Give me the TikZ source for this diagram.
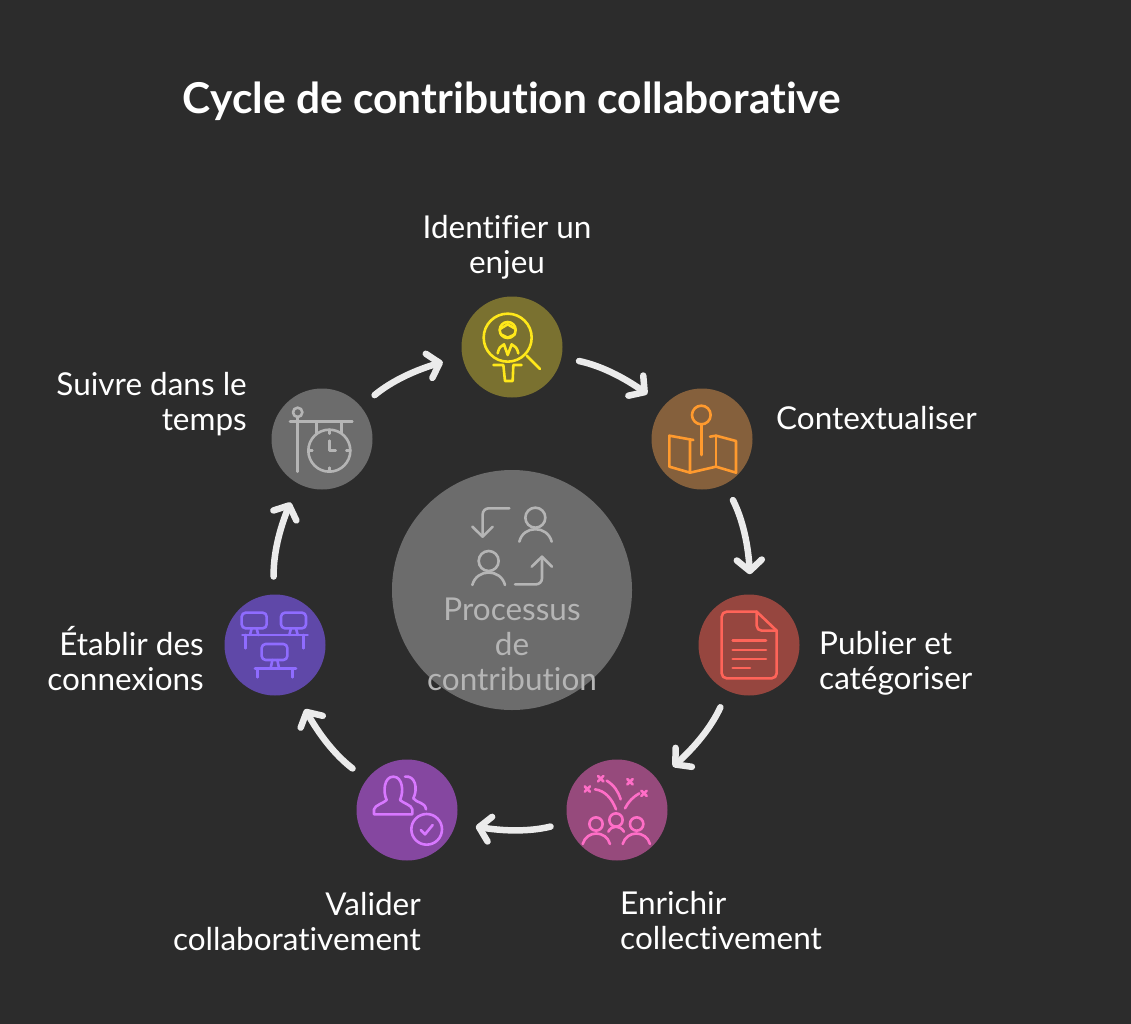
\documentclass[tikz,border=0pt]{standalone}
\usepackage{fontspec}
\setmainfont[Ligatures=NoCommon]{Lato}
\usetikzlibrary{arrows.meta,bending}
\definecolor{bg}{HTML}{2C2C2C}
\definecolor{arrowc}{HTML}{EBEBEB}
\definecolor{yf}{HTML}{7A7130}\definecolor{ys}{HTML}{FFE81A}
\definecolor{of}{HTML}{85603C}\definecolor{os}{HTML}{FF9A2E}
\definecolor{rf}{HTML}{96463F}\definecolor{rs}{HTML}{FF6459}
\definecolor{pf}{HTML}{964A7C}\definecolor{ps}{HTML}{FF6EC7}
\definecolor{vf}{HTML}{8547A0}\definecolor{vs}{HTML}{D878FF}
\definecolor{nf}{HTML}{5F48A8}\definecolor{ns}{HTML}{8F6CFF}
\definecolor{gf}{HTML}{6C6C6C}\definecolor{gs}{HTML}{B5B5B5}
\tikzset{
  x=1pt,y=-1pt,
  disc/.style={circle,minimum size=101pt,inner sep=0pt,outer sep=0pt},
  ico/.style={line width=2.6pt,line cap=round,line join=round},
  lab/.style={text=white,font=\fontsize{31.5}{35}\selectfont,inner sep=0pt},
  flow/.style={draw=arrowc,line width=6.5pt,line cap=round,line join=round,
    -{Straight Barb[length=11pt,width=25pt,line width=6.5pt,round]},
    bend left=14,shorten <=18pt,shorten >=21pt},
}
\begin{document}
\begin{tikzpicture}
\useasboundingbox (0,0) rectangle (1131,1024);
\fill[bg] (0,0) rectangle (1131,1024);
\node[text=white,inner sep=0pt,font=\fontsize{42.5}{50}\selectfont\bfseries] (title) at (512,101) {Cycle de contribution collaborative};
\node[disc,minimum size=240pt,fill=gf] (center) at (512,590) {};
\node[disc,fill=yf] (n1) at (512,347) {};
\node[disc,fill=of] (n2) at (702,439) {};
\node[disc,fill=rf] (n3) at (749,645) {};
\node[disc,fill=pf] (n4) at (617,810) {};
\node[disc,fill=vf] (n5) at (407,810) {};
\node[disc,fill=nf] (n6) at (275,645) {};
\node[disc,fill=gf] (n7) at (322,439) {};
\draw[flow] (n1) to (n2);
\draw[flow] (n2) to (n3);
\draw[flow] (n3) to (n4);
\draw[flow] (n4) to (n5);
\draw[flow] (n5) to (n6);
\draw[flow] (n6) to (n7);
\draw[flow] (n7) to (n1);
% labels
\node[lab,align=center] (l1) at (507,247) {Identifier un\\enjeu};
\node[lab,anchor=west] (l2) at (776,418) {Contextualiser};
\node[lab,anchor=west,align=left] (l3) at (819,663) {Publier et\\catégoriser};
\node[lab,anchor=west,align=left] (l4) at (620,921) {Enrichir\\collectivement};
\node[lab,anchor=east,align=right] (l5) at (421,922) {Valider\\collaborativement};
\node[lab,anchor=east,align=right] (l6) at (204,659) {Établir des\\connexions};
\node[lab,anchor=east,align=right] (l7) at (247,404) {Suivre dans le\\temps};
\node[lab,align=center,text=gs] (lc) at (512,644) {Processus\\de\\contribution};
% yellow icon
\begin{scope}[shift={(450,285)},scale=1/3,draw=ys,ico]
\draw (173,158) circle (72);
\draw (173,135) circle (24);
\draw (150,132) -- (173,118) -- (197,132);
\draw (152,148) -- (173,158) -- (195,148);
\draw (143,205) .. controls (146,190) and (152,182) .. (162,178) -- (173,210) -- (185,178) .. controls (195,182) and (202,190) .. (205,205);
\draw (130,240) -- (160,240) -- (165,288) -- (188,288) -- (190,240) -- (215,240);
\draw (230,212) -- (270,252);
\end{scope}
% orange icon
\begin{scope}[shift={(450,285)},scale=1/3,draw=os,ico]
\draw (754,390) circle (28);
\draw (754,418) -- (754,510);
\draw (730,465) -- (658,452) -- (658,545) -- (720,563) -- (720,465);
\draw (720,563) -- (798,545) -- (858,563) -- (858,468) -- (798,452) -- (780,455);
\draw (798,452) -- (798,545);
\end{scope}
% red icon
\begin{scope}[shift={(690,590)},scale=1/3,draw=rs,ico]
\draw[rounded corners=5pt] (200,65) -- (95,65) -- (95,265) -- (260,265) -- (260,122);
\draw (200,65) -- (260,122);
\draw[rounded corners=5pt] (200,65) -- (200,122) -- (260,122);
\draw (128,152) -- (228,152) (128,180) -- (228,180) (128,207) -- (228,207) (128,234) -- (180,234);
\end{scope}
% pink icon
\begin{scope}[shift={(350,750)},scale=1/3,draw=ps,ico]
\draw (738,222) circle (20) (798,210) circle (20) (860,222) circle (20);
\draw (698,282) .. controls (710,240) and (768,240) .. (780,282);
\draw (818,282) .. controls (830,240) and (888,240) .. (900,282);
\draw (775,245) .. controls (785,225) and (810,225) .. (822,245);
\draw (735,118) .. controls (765,122) and (785,145) .. (798,178);
\draw (770,92) .. controls (792,105) and (805,125) .. (812,148);
\draw (825,175) .. controls (835,155) and (850,140) .. (868,130);
\foreach \px/\py in {752/86,840/95,712/117,882/130}
  \draw (\px-8,\py-8) -- (\px+8,\py+8) (\px-8,\py+8) -- (\px+8,\py-8);
\end{scope}
% purple icon
\begin{scope}[shift={(350,750)},scale=1/3,draw=vs,ico]
\draw (72,193) -- (187,193) -- (187,178) .. controls (185,165) and (160,160) .. (150,150) .. controls (162,125) and (158,80) .. (130,80) .. controls (102,80) and (98,125) .. (110,150) .. controls (100,160) and (75,165) .. (72,178) -- cycle;
\draw (165,80) .. controls (195,75) and (205,115) .. (190,145) .. controls (200,160) and (225,155) .. (228,178);
\draw (230,238) circle (46);
\draw (212,240) -- (225,253) -- (248,225);
\end{scope}
% indigo icon
\begin{scope}[shift={(215,380)},scale=1/3,draw=ns,ico]
\draw[rounded corners=4pt] (80,698) rectangle (155,745);
\draw[rounded corners=4pt] (198,698) rectangle (273,745);
\draw[rounded corners=4pt] (140,792) rectangle (217,840);
\draw (110,745) -- (105,765) (125,745) -- (130,765);
\draw (228,745) -- (223,765) (243,745) -- (248,765);
\draw (172,840) -- (167,865) (187,840) -- (192,865);
\draw (82,765) -- (278,765) (92,765) -- (92,805) (266,765) -- (266,805);
\draw (120,865) -- (243,865) (128,865) -- (128,892) (232,865) -- (232,892);
\end{scope}
% gray icon
\begin{scope}[shift={(215,380)},scale=1/3,draw=gs,ico]
\draw (248,97) circle (14);
\draw (248,111) -- (248,275);
\draw (225,125) -- (412,125);
\draw (305,125) -- (305,160) (380,125) -- (380,160);
\draw (343,212) circle (63);
\draw (343,149) -- (343,161) (343,275) -- (343,263) (280,212) -- (292,212) (406,212) -- (394,212);
\draw (343,182) -- (343,212) -- (362,212);
\end{scope}
% center icon
\begin{scope}[shift={(390,465)},scale=1/3,draw=gs,ico]
\draw[rounded corners=6pt] (358,130) -- (278,130) -- (278,215);
\draw (247,185) -- (278,215) -- (308,185);
\draw (436,158) circle (30);
\draw (388,230) .. controls (400,180) and (472,180) .. (485,230);
\draw (296,288) circle (30);
\draw (247,360) .. controls (260,310) and (332,310) .. (345,360);
\draw[rounded corners=6pt] (375,358) -- (456,358) -- (456,275);
\draw (425,305) -- (456,275) -- (486,305);
\end{scope}
\end{tikzpicture}
\end{document}
